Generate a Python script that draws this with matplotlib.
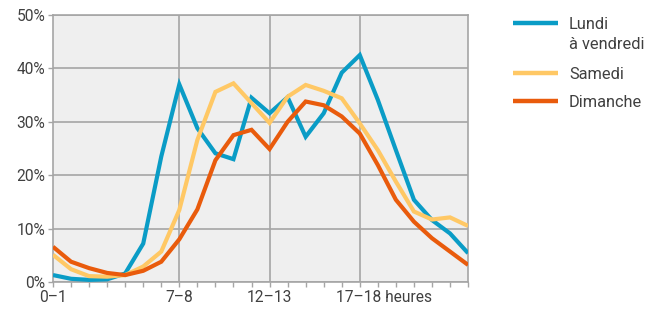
import matplotlib
matplotlib.use("Agg")
import matplotlib.pyplot as plt
from matplotlib.lines import Line2D

# share of people on the move, per hour slot (0-1 ... 23-24)
hours = list(range(24))
lundi_vendredi = [1.3, 0.6, 0.4, 0.5, 1.6, 7.2, 23.5, 37.0, 28.8, 24.1, 23.0, 34.5,
                  31.6, 34.6, 27.2, 31.6, 39.2, 42.5, 34.1, 24.7, 15.4, 11.6, 9.1, 5.4]
samedi = [5.1, 2.4, 1.1, 1.0, 1.3, 2.9, 5.7, 13.5, 26.6, 35.6, 37.2, 33.5,
          29.8, 34.7, 36.9, 35.8, 34.4, 29.7, 24.7, 18.8, 13.2, 11.7, 12.1, 10.5]
dimanche = [6.6, 3.8, 2.6, 1.7, 1.3, 2.1, 3.8, 8.0, 13.6, 22.8, 27.5, 28.5,
            24.9, 30.0, 33.8, 33.1, 31.0, 27.8, 21.9, 15.4, 11.3, 8.2, 5.7, 3.2]

tick_pos = [0, 7, 12, 17]
tick_labels = ["0–1", "7–8", "12–13", ""]
last_label = "17–18 heures"
series = [("Lundi\nà vendredi", lundi_vendredi, "#0a9cc6"),
          ("Samedi", samedi, "#ffc865"),
          ("Dimanche", dimanche, "#e95b0c")]

plt.rcParams["font.family"] = ["Roboto", "DejaVu Sans"]
text_color = "#404040"
grid_color = "#a5a5a5"
label_size = 11.2

fig = plt.figure(figsize=(6.51, 3.10), dpi=100)
ax = fig.add_axes([0.0814, 0.0903, 0.6376, 0.8613])
ax.set_facecolor("#efefef")

for name, values, color in series:
    ax.plot(hours, values, color=color, linewidth=3.0, solid_joinstyle="miter",
            solid_capstyle="butt", zorder=3)

ax.set_xlim(0, 23)
ax.set_ylim(0, 50)
ax.set_yticks(range(0, 51, 10))
ax.set_yticklabels([f"{v}%" for v in range(0, 51, 10)])
ax.set_xticks(tick_pos)
ax.set_xticklabels(tick_labels)
ax.set_xticks(hours, minor=True)

ax.grid(True, axis="y", color=grid_color, linewidth=1.2, zorder=1)
for x in tick_pos[1:]:
    ax.axvline(x, color=grid_color, linewidth=1.2, zorder=1)

for s in ax.spines.values():
    s.set_color(grid_color)
    s.set_linewidth(1.2)

ax.tick_params(axis="both", which="both", length=3.5, width=1, color=grid_color,
               labelsize=label_size, labelcolor=text_color, pad=2)
ax.tick_params(axis="x", which="major", pad=2.5)

# last x label is left-aligned near its tick, with the "heures" unit
ax.annotate(last_label, xy=(tick_pos[-1], 0), xycoords=("data", "axes fraction"),
            xytext=(-17.3, -5.5), textcoords="offset points", ha="left", va="top",
            fontsize=label_size, color=text_color)

# legend on the right
y_rows = [0.925, 0.765, 0.675]
line_step = 0.064
for (name, values, color), y in zip(series, y_rows):
    fig.add_artist(Line2D([0.788, 0.857], [y, y], transform=fig.transFigure,
                          color=color, linewidth=3.2, solid_capstyle="butt"))
    for i, part in enumerate(name.split("\n")):
        fig.text(0.874, y - i * line_step, part, ha="left", va="center_baseline",
                 fontsize=11.8, color=text_color)

fig.savefig("out.png", dpi=100)
